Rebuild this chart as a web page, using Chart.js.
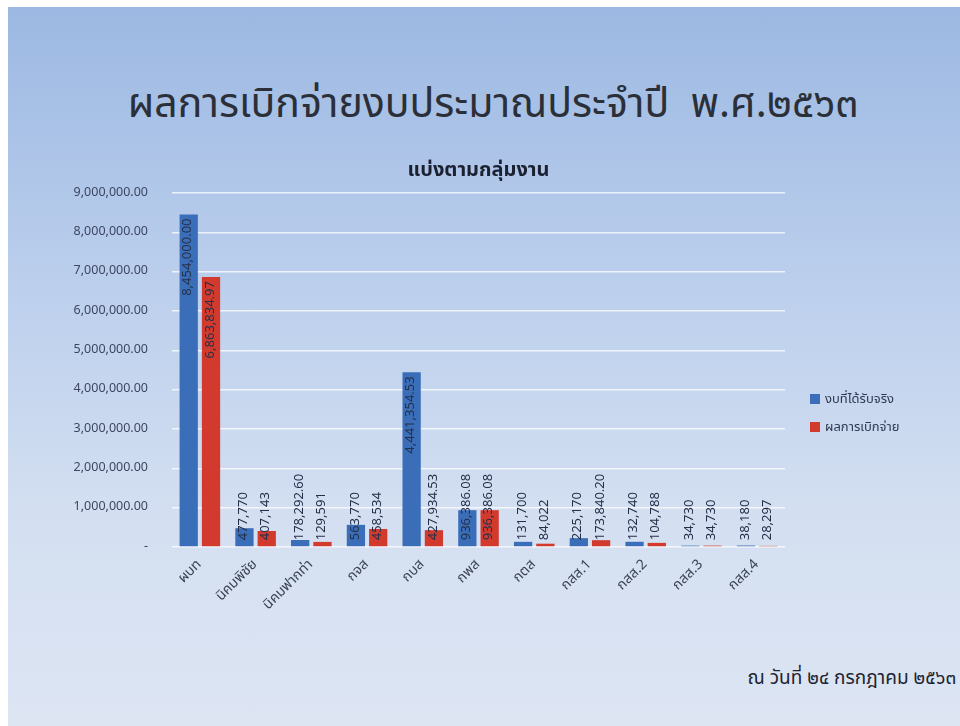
<!DOCTYPE html>
<html>
<head>
<meta charset="utf-8">
<script src="https://cdn.jsdelivr.net/npm/chart.js@4.4.0/dist/chart.umd.min.js"></script>
<style>
  html, body { margin: 0; padding: 0; background: #ffffff; }
  body { width: 960px; height: 726px; position: relative; overflow: hidden; font-family: Tahoma, "Leelawadee UI", "Noto Sans Thai", "Noto Sans", sans-serif; }
  #slide { position: absolute; left: 8px; top: 7px; width: 952px; height: 719px;
           background: linear-gradient(to bottom, #9cb8e2 0%, #b9cdec 35%, #d3dff1 70%, #dde5f3 100%); }
  #title { position: absolute; left: 0; width: 970px; top: 66px; text-align: center; font-size: 41px; color: #2b2f38; white-space: nowrap; }
  #footer { position: absolute; right: 4px; top: 657px; font-size: 19px; color: #1e2430; white-space: nowrap; }
  #legend { position: absolute; left: 802px; top: 384px; font-size: 13px; color: #2d3a52; }
  #legend .item { display: flex; align-items: center; height: 16px; margin-bottom: 12px; white-space: nowrap; }
  #legend .sw { width: 10px; height: 10px; margin-right: 5px; }
  #chartWrap { position: absolute; left: 0; top: 150px; width: 952px; height: 500px; }
</style>
</head>
<body>
<div id="slide">
  <div id="title">ผลการเบิกจ่ายงบประมาณประจำปี&nbsp; พ.ศ.๒๕๖๓</div>
  <div id="chartWrap"><canvas id="c" width="952" height="500"></canvas></div>
  <div id="legend"></div>
  <div id="footer">ณ วันที่ ๒๔ กรกฎาคม ๒๕๖๓</div>
</div>
<script>
const categories = ["ผบท", "นิคมพิชัย", "นิคมฟากท่า", "กจส", "กบส", "กพส", "กตส", "กสส.1", "กสส.2", "กสส.3", "กสส.4"];
const seriesNames = ["งบที่ได้รับจริง", "ผลการเบิกจ่าย"];
const budget = [8454000.00, 477770, 178292.60, 563770, 4441354.53, 936386.08, 131700, 225170, 132740, 34730, 38180];
const spent  = [6863834.97, 407143, 129591, 458534, 427934.53, 936386.08, 84022, 173840.20, 104788, 34730, 28297];
const budgetDecimals = [2, 0, 2, 0, 2, 2, 0, 0, 0, 0, 0];
const spentDecimals  = [2, 0, 0, 0, 2, 2, 0, 2, 0, 0, 0];
const yTicks = [0, 1000000, 2000000, 3000000, 4000000, 5000000, 6000000, 7000000, 8000000, 9000000];

const FONT = 'Tahoma, "Leelawadee UI", "Noto Sans Thai", "Noto Sans", sans-serif';
const colors = ['#3b6eb8', '#d23a2e'];

function fmt(v, d) {
  return v.toLocaleString('en-US', { minimumFractionDigits: d, maximumFractionDigits: d });
}

const dataLabelPlugin = {
  id: 'dataLabels',
  afterDatasetsDraw(chart) {
    const ctx = chart.ctx;
    const decs = [budgetDecimals, spentDecimals];
    ctx.save();
    ctx.font = '13px ' + FONT;
    ctx.fillStyle = '#24304a';
    ctx.textBaseline = 'middle';
    ctx.textAlign = 'left';
    chart.data.datasets.forEach((ds, di) => {
      const meta = chart.getDatasetMeta(di);
      meta.data.forEach((bar, i) => {
        const txt = fmt(ds.data[i], decs[di][i]);
        const w = ctx.measureText(txt).width;
        const base = bar.base;
        const startY = Math.min(bar.y + 4 + w, base - 6);
        ctx.save();
        ctx.translate(bar.x, startY);
        ctx.rotate(-Math.PI / 2);
        ctx.fillText(txt, 0, 0);
        ctx.restore();
      });
    });
    ctx.restore();
  }
};

const chart = new Chart(document.getElementById('c'), {
  type: 'bar',
  data: {
    labels: categories,
    datasets: [
      { label: seriesNames[0], data: budget, backgroundColor: colors[0], borderWidth: 0 },
      { label: seriesNames[1], data: spent, backgroundColor: colors[1], borderWidth: 0 }
    ]
  },
  options: {
    responsive: false,
    animation: false,
    devicePixelRatio: 1,
    layout: { padding: { left: 0, right: 175, top: 0, bottom: 0 } },
    datasets: { bar: { categoryPercentage: 0.8, barPercentage: 0.82 } },
    plugins: {
      legend: { display: false },
      tooltip: { enabled: false },
      title: {
        display: true,
        text: 'แบ่งตามกลุ่มงาน',
        fullSize: false,
        font: { family: FONT, size: 20, weight: 'bold' },
        color: '#1b2130',
        padding: { top: 3, bottom: 9 }
      }
    },
    scales: {
      x: {
        afterFit(axis) { axis.height = 110; },
        grid: { display: false, drawTicks: false },
        border: { display: false },
        ticks: {
          minRotation: 45, maxRotation: 45,
          font: { family: FONT, size: 14 },
          color: '#3a4254',
          padding: 10,
          autoSkip: false
        }
      },
      y: {
        min: 0, max: 9000000,
        afterFit(axis) { axis.width = 164; },
        afterBuildTicks(axis) { axis.ticks = yTicks.map(v => ({ value: v })); },
        grid: { color: 'rgba(255,255,255,0.75)', lineWidth: 1.5, drawTicks: false },
        border: { display: false },
        ticks: {
          font: { family: FONT, size: 12.5 },
          color: '#3c4660',
          padding: 24,
          callback: v => v === 0 ? '-' : fmt(v, 2)
        }
      }
    }
  },
  plugins: [dataLabelPlugin]
});

const lg = document.getElementById('legend');
chart.data.datasets.forEach(ds => {
  const it = document.createElement('div');
  it.className = 'item';
  const sw = document.createElement('div');
  sw.className = 'sw';
  sw.style.background = ds.backgroundColor;
  const t = document.createElement('span');
  t.textContent = ds.label;
  it.appendChild(sw); it.appendChild(t);
  lg.appendChild(it);
});
</script>
</body>
</html>
